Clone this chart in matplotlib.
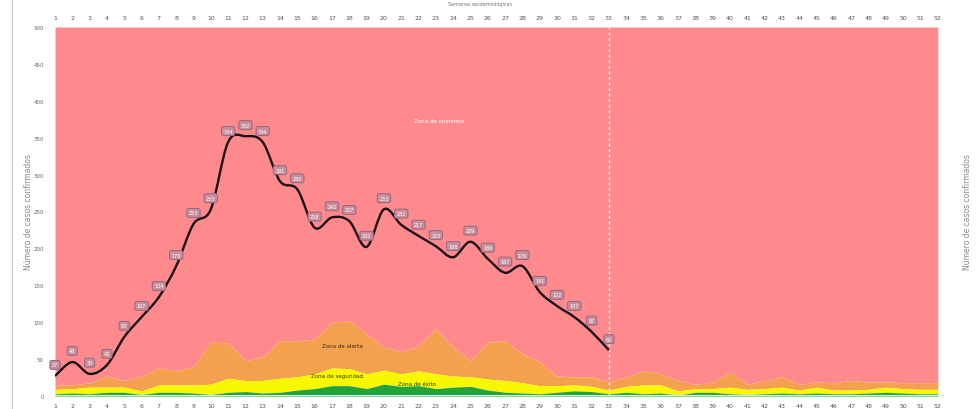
import numpy as np
import matplotlib
matplotlib.use("Agg")
import matplotlib.pyplot as plt
from matplotlib.path import Path
from matplotlib.patches import PathPatch
from matplotlib.lines import Line2D

weeks = list(range(1, 53))
week_labels = [str(w) for w in weeks]

# Channel endemic zones (cumulative upper limits)
exito_top = [3, 4, 3, 5, 5, 2, 5, 5, 4, 2, 5, 6, 4, 5, 8, 10, 14, 14, 10, 16,
             13, 14, 10, 12, 13, 8, 5, 4, 3, 5, 7, 6, 3, 5, 3, 4, 1, 5, 5, 3,
             2, 3, 4, 3, 4, 3, 3, 4, 5, 4, 3, 3]
seguridad_top = [9, 10, 12, 12, 12, 7, 15, 15, 15, 16, 24, 21, 21, 24, 26, 30, 38, 37, 30, 35,
                 30, 34, 30, 27, 26, 23, 21, 18, 14, 14, 15, 13, 8, 13, 15, 15, 7, 10, 10, 12,
                 9, 10, 12, 8, 12, 8, 8, 9, 12, 10, 9, 9]
alerta_top = [15, 15, 18, 27, 21, 27, 38, 34, 40, 73, 72, 48, 53, 75, 75, 77, 100, 102, 84, 66,
              60, 68, 91, 66, 48, 73, 75, 57, 46, 27, 26, 26, 19, 26, 34, 30, 21, 16, 19, 32,
              16, 21, 26, 16, 19, 18, 21, 19, 19, 18, 18, 18]
epidemia_top = [500] * 52

# Confirmed cases (weeks 1-33)
case_weeks = list(range(1, 34))
cases = [27, 46, 30, 42, 80, 107, 134, 176, 233, 253, 344, 352, 344, 291, 280, 228, 242, 237, 202, 253,
         232, 217, 203, 188, 209, 186, 167, 176, 141, 122, 107, 87, 62]

current_week = 33

RED = "#ff8a8e"
ORANGE = "#f3a04f"
YELLOW = "#f7f700"
GREEN = "#23a33c"

fig = plt.figure(figsize=(9.76, 4.10), dpi=100)
ax = fig.add_axes([55 / 976, 1 - 397 / 410, (943 - 55) / 976, (397 - 28) / 410])

x = np.array(weeks)
ax.fill_between(x, 0, exito_top, color=GREEN, lw=0, zorder=4)
ax.fill_between(x, exito_top, seguridad_top, color=YELLOW, lw=0, zorder=3)
ax.fill_between(x, seguridad_top, alerta_top, color=ORANGE, lw=0, zorder=2)
ax.fill_between(x, alerta_top, epidemia_top, color=RED, lw=0, zorder=1)

ax.axhline(0, color="#c8eeee", lw=1.5, zorder=5)
ax.axvline(current_week, color="white", lw=1, ls=(0, (2, 2)), zorder=6)

# smoothed line (Catmull-Rom -> Bezier) through data points
px = np.array(case_weeks, float)
py = np.array(cases, float)
verts = [(px[0], py[0])]
codes = [Path.MOVETO]
n = len(px)
for i in range(n - 1):
    p0 = (px[max(i - 1, 0)], py[max(i - 1, 0)])
    p1 = (px[i], py[i])
    p2 = (px[i + 1], py[i + 1])
    p3 = (px[min(i + 2, n - 1)], py[min(i + 2, n - 1)])
    c1 = (p1[0] + (p2[0] - p0[0]) / 6, p1[1] + (p2[1] - p0[1]) / 6)
    c2 = (p2[0] - (p3[0] - p1[0]) / 6, p2[1] - (p3[1] - p1[1]) / 6)
    verts += [c1, c2, p2]
    codes += [Path.CURVE4] * 3
ax.add_patch(PathPatch(Path(verts, codes), fc="none", ec="#1a1015", lw=1.7, zorder=7))

for wk, v in zip(case_weeks, cases):
    ax.annotate(str(v), (wk, v), xytext=(0, 8), textcoords="offset points",
                ha="center", va="center", fontsize=3.5, color="white", zorder=8,
                bbox=dict(boxstyle="round,pad=0.4", fc="#c98e9b", ec="#9c6a80", lw=0.8))

ax.text(23.2, 373, "Zona de epidemia", fontsize=4, color="white", ha="center", va="center", zorder=9)
ax.text(17.6, 69, "Zona de alerta", fontsize=4, color="#3a2a10", ha="center", va="center", zorder=9)
ax.text(17.3, 28, "Zona de seguridad", fontsize=4, color="#3a3a00", ha="center", va="center", zorder=9)
ax.text(21.9, 17, "Zona de éxito", fontsize=4, color="#1c3a10", ha="center", va="center", zorder=9)

ax.set_xlim(1, 52.3)
ax.set_ylim(0, 500)
ax.set_xticks(weeks)
ax.set_xticklabels(week_labels)
ax.set_yticks(range(0, 501, 50))
for s in ax.spines.values():
    s.set_visible(False)
ax.tick_params(axis="x", top=True, labeltop=True, bottom=True, labelbottom=True,
               length=0, labelsize=4.5, labelcolor="#555555", pad=5)
ax.tick_params(axis="y", left=False, right=False, labelleft=True, labelright=True,
               length=0, labelsize=4, labelcolor="#666666", pad=8)
ax.set_ylabel("Número de casos confirmados", fontsize=5.5, color="#888888")
ax.yaxis.set_label_coords((33 - 55) / 888, 0.5)

ax2 = ax.twinx()
ax2.set_ylim(0, 500)
ax2.set_yticks([])
for s in ax2.spines.values():
    s.set_visible(False)
ax2.set_ylabel("Número de casos confirmados", fontsize=5.5, color="#888888", rotation=90)
ax2.yaxis.set_label_coords((963 - 55) / 888, 0.5)

fig.text(480 / 976, 1 - 4 / 410, "Semanas epidemiológicas", fontsize=3.5, color="#777777",
         ha="center", va="center")
fig.add_artist(Line2D([12 / 976, 12 / 976], [0, 1], color="#cfcfcf", lw=1))

fig.savefig("out.png", dpi=100)
